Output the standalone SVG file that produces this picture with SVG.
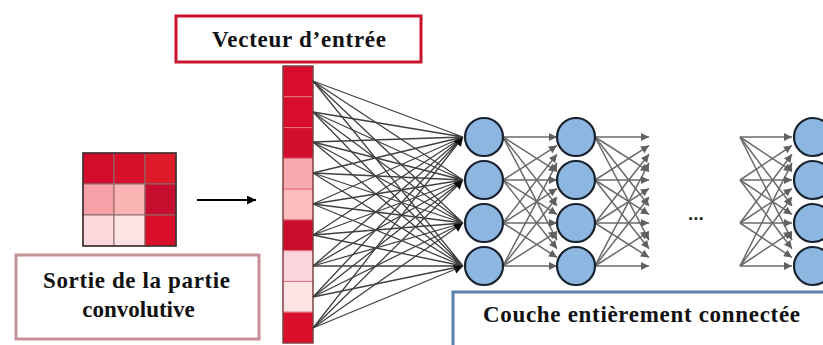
<svg xmlns="http://www.w3.org/2000/svg" width="823" height="345" viewBox="0 0 823 345">
  <style>
    .lbl { font-family: "Liberation Serif", "Times New Roman", serif; font-weight: bold; font-size: 23px; fill: #111111; }
    .box { fill: #ffffff; stroke-width: 3; }
    .neuron { fill: #8db6e0; stroke: #17222e; stroke-width: 2.2; }
    .in { stroke: #404040; stroke-width: 1.3; fill: none; marker-end: url(#ahk); }
    .fc { stroke: #6a6a6a; stroke-width: 1.5; fill: none; marker-end: url(#ahg); }
    .cell { stroke: #e7707e; stroke-width: 1; }
    .gcell { stroke: #8a6a6a; stroke-width: 1; }
  </style>
  <defs>
    <marker id="ahk" viewBox="0 0 10 10" refX="10" refY="5" markerWidth="11" markerHeight="9" orient="auto" markerUnits="userSpaceOnUse">
      <path d="M0,0 L10,5 L0,10 z" fill="#0a0a0a"/>
    </marker>
    <marker id="ahg" viewBox="0 0 10 10" refX="10" refY="5" markerWidth="10" markerHeight="8" orient="auto" markerUnits="userSpaceOnUse">
      <path d="M0,0 L10,5 L0,10 z" fill="#606060"/>
    </marker>
    <marker id="ahb" viewBox="0 0 10 10" refX="10" refY="5" markerWidth="10" markerHeight="9" orient="auto" markerUnits="userSpaceOnUse">
      <path d="M0,0 L10,5 L0,10 z" fill="#000000"/>
    </marker>
  </defs>

  <rect width="823" height="345" fill="#ffffff"/>

  <!-- 3x3 feature map -->
  <g id="feature-map">
    <rect class="gcell" x="83" y="153" width="31" height="31" fill="#d40c2c"/>
    <rect class="gcell" x="114" y="153" width="31" height="31" fill="#d8102c"/>
    <rect class="gcell" x="145" y="153" width="31" height="31" fill="#dc1a2a"/>
    <rect class="gcell" x="83" y="184" width="31" height="31" fill="#f8a0a8"/>
    <rect class="gcell" x="114" y="184" width="31" height="31" fill="#fbb4b4"/>
    <rect class="gcell" x="145" y="184" width="31" height="31" fill="#c80e2e"/>
    <rect class="gcell" x="83" y="215" width="31" height="31" fill="#fdd8dc"/>
    <rect class="gcell" x="114" y="215" width="31" height="31" fill="#fde4e4"/>
    <rect class="gcell" x="145" y="215" width="31" height="31" fill="#d80e28"/>
    <rect x="83" y="153" width="93" height="93" fill="none" stroke="#3a2a2a" stroke-width="1.5"/>
  </g>

  <g id="label-sortie">
    <rect class="box" x="16" y="255" width="243" height="84" stroke="#c49297"/>
    <text class="lbl" x="136.5" y="288" text-anchor="middle" textLength="187" lengthAdjust="spacing">Sortie de la partie</text>
    <text class="lbl" x="138.5" y="317" text-anchor="middle">convolutive</text>
  </g>

  <!-- flattened input vector -->
  <g id="input-vector">
    <rect class="cell" x="283" y="66" width="30" height="30.8" fill="#d90d2b"/>
    <rect class="cell" x="283" y="96.8" width="30" height="30.8" fill="#d70d2b"/>
    <rect class="cell" x="283" y="127.6" width="30" height="30.8" fill="#d20f2b"/>
    <rect class="cell" x="283" y="158.3" width="30" height="30.8" fill="#f9aab0"/>
    <rect class="cell" x="283" y="189.1" width="30" height="30.8" fill="#fbbcbe"/>
    <rect class="cell" x="283" y="219.9" width="30" height="30.8" fill="#c90d2d"/>
    <rect class="cell" x="283" y="250.7" width="30" height="30.8" fill="#fcd6dc"/>
    <rect class="cell" x="283" y="281.4" width="30" height="30.8" fill="#fde3e3"/>
    <rect class="cell" x="283" y="312.2" width="30" height="30.8" fill="#d90f2b"/>
    <rect x="283" y="66" width="30" height="277" fill="none" stroke="#4a2a2a" stroke-width="1"/>
  </g>

  <g id="label-vecteur">
    <rect class="box" x="176" y="16" width="245" height="46" stroke="#c8142c"/>
    <text class="lbl" x="299" y="47" text-anchor="middle" textLength="174" lengthAdjust="spacing">Vecteur d’entrée</text>
  </g>

  <g id="connectors">
    <!-- flatten arrow -->
    <line x1="197" y1="200" x2="256" y2="200" stroke="#000000" stroke-width="2" marker-end="url(#ahb)"/>

    <!-- input vector to first hidden layer -->
    <g id="input-links">
      <path class="in" d="M313,81 L463,137 M313,112 L463,137 M313,142 L463,137 M313,173 L463,137 M313,204 L463,137 M313,235 L463,137 M313,266 L463,137 M313,297 L463,137 M313,328 L463,137"/>
      <path class="in" d="M313,81 L463,180 M313,112 L463,180 M313,142 L463,180 M313,173 L463,180 M313,204 L463,180 M313,235 L463,180 M313,266 L463,180 M313,297 L463,180 M313,328 L463,180"/>
      <path class="in" d="M313,81 L463,223 M313,112 L463,223 M313,142 L463,223 M313,173 L463,223 M313,204 L463,223 M313,235 L463,223 M313,266 L463,223 M313,297 L463,223 M313,328 L463,223"/>
      <path class="in" d="M313,81 L463,266 M313,112 L463,266 M313,142 L463,266 M313,173 L463,266 M313,204 L463,266 M313,235 L463,266 M313,266 L463,266 M313,297 L463,266 M313,328 L463,266"/>
    </g>

    <!-- hidden layer 1 to hidden layer 2 -->
    <g id="links-1-2">
      <line class="fc" x1="503" y1="137" x2="557" y2="137"/>
      <line class="fc" x1="503" y1="137" x2="557" y2="171.4"/>
      <line class="fc" x1="503" y1="137" x2="557" y2="205.8"/>
      <line class="fc" x1="503" y1="137" x2="557" y2="240.2"/>
      <line class="fc" x1="503" y1="180" x2="557" y2="145.6"/>
      <line class="fc" x1="503" y1="180" x2="557" y2="180"/>
      <line class="fc" x1="503" y1="180" x2="557" y2="214.4"/>
      <line class="fc" x1="503" y1="180" x2="557" y2="248.8"/>
      <line class="fc" x1="503" y1="223" x2="557" y2="154.2"/>
      <line class="fc" x1="503" y1="223" x2="557" y2="188.6"/>
      <line class="fc" x1="503" y1="223" x2="557" y2="223"/>
      <line class="fc" x1="503" y1="223" x2="557" y2="257.4"/>
      <line class="fc" x1="503" y1="266" x2="557" y2="162.8"/>
      <line class="fc" x1="503" y1="266" x2="557" y2="197.2"/>
      <line class="fc" x1="503" y1="266" x2="557" y2="231.6"/>
      <line class="fc" x1="503" y1="266" x2="557" y2="266"/>
    </g>

    <!-- hidden layer 2 outgoing -->
    <g id="links-2-out">
      <line class="fc" x1="595" y1="137" x2="649" y2="137"/>
      <line class="fc" x1="595" y1="137" x2="649" y2="171.4"/>
      <line class="fc" x1="595" y1="137" x2="649" y2="205.8"/>
      <line class="fc" x1="595" y1="137" x2="649" y2="240.2"/>
      <line class="fc" x1="595" y1="180" x2="649" y2="145.6"/>
      <line class="fc" x1="595" y1="180" x2="649" y2="180"/>
      <line class="fc" x1="595" y1="180" x2="649" y2="214.4"/>
      <line class="fc" x1="595" y1="180" x2="649" y2="248.8"/>
      <line class="fc" x1="595" y1="223" x2="649" y2="154.2"/>
      <line class="fc" x1="595" y1="223" x2="649" y2="188.6"/>
      <line class="fc" x1="595" y1="223" x2="649" y2="223"/>
      <line class="fc" x1="595" y1="223" x2="649" y2="257.4"/>
      <line class="fc" x1="595" y1="266" x2="649" y2="162.8"/>
      <line class="fc" x1="595" y1="266" x2="649" y2="197.2"/>
      <line class="fc" x1="595" y1="266" x2="649" y2="231.6"/>
      <line class="fc" x1="595" y1="266" x2="649" y2="266"/>
    </g>

    <!-- incoming to the last layer -->
    <g id="links-last">
      <line class="fc" x1="740" y1="137" x2="792" y2="137"/>
      <line class="fc" x1="740" y1="137" x2="792" y2="171.4"/>
      <line class="fc" x1="740" y1="137" x2="792" y2="205.8"/>
      <line class="fc" x1="740" y1="137" x2="792" y2="240.2"/>
      <line class="fc" x1="740" y1="180" x2="792" y2="145.6"/>
      <line class="fc" x1="740" y1="180" x2="792" y2="180"/>
      <line class="fc" x1="740" y1="180" x2="792" y2="214.4"/>
      <line class="fc" x1="740" y1="180" x2="792" y2="248.8"/>
      <line class="fc" x1="740" y1="223" x2="792" y2="154.2"/>
      <line class="fc" x1="740" y1="223" x2="792" y2="188.6"/>
      <line class="fc" x1="740" y1="223" x2="792" y2="223"/>
      <line class="fc" x1="740" y1="223" x2="792" y2="257.4"/>
      <line class="fc" x1="740" y1="266" x2="792" y2="162.8"/>
      <line class="fc" x1="740" y1="266" x2="792" y2="197.2"/>
      <line class="fc" x1="740" y1="266" x2="792" y2="231.6"/>
      <line class="fc" x1="740" y1="266" x2="792" y2="266"/>
    </g>
  </g>

  <!-- neurons -->
  <g id="layer-1">
    <circle class="neuron" cx="484" cy="137" r="19"/>
    <circle class="neuron" cx="484" cy="180" r="19"/>
    <circle class="neuron" cx="484" cy="223" r="19"/>
    <circle class="neuron" cx="484" cy="266" r="19"/>
  </g>
  <g id="layer-2">
    <circle class="neuron" cx="576" cy="137" r="19"/>
    <circle class="neuron" cx="576" cy="180" r="19"/>
    <circle class="neuron" cx="576" cy="223" r="19"/>
    <circle class="neuron" cx="576" cy="266" r="19"/>
  </g>
  <g id="layer-last">
    <circle class="neuron" cx="813" cy="137" r="19"/>
    <circle class="neuron" cx="813" cy="180" r="19"/>
    <circle class="neuron" cx="813" cy="223" r="19"/>
    <circle class="neuron" cx="813" cy="266" r="19"/>
  </g>

  <g id="ellipsis">
    <text x="688" y="220" font-family="Liberation Sans, Arial, sans-serif" font-weight="bold" font-size="19" fill="#222222">...</text>
  </g>

  <g id="label-couche">
    <rect class="box" x="453" y="292" width="380" height="70" stroke="#5b80ad"/>
    <text class="lbl" x="483" y="322" textLength="317" lengthAdjust="spacing">Couche entièrement connectée</text>
  </g>
</svg>
